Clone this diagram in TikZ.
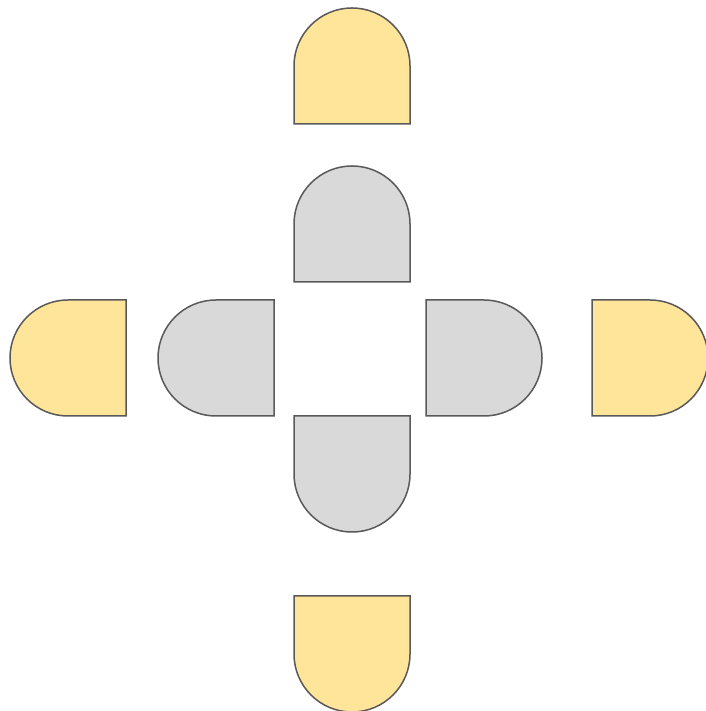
\documentclass[tikz,border=0pt]{standalone}
\definecolor{yelfill}{HTML}{FFE599}
\definecolor{greyfill}{HTML}{D9D9D9}
\definecolor{edgecol}{HTML}{595959}
\begin{document}
\begin{tikzpicture}[x=1pt,y=1pt,
  yshape/.style={fill=yelfill,draw=edgecol,line width=1.5pt,line join=miter},
  gshape/.style={fill=greyfill,draw=edgecol,line width=1.5pt,line join=miter}]
\useasboundingbox (0,1) rectangle (705,712);
% yellow
\draw[yshape] (294,588) -- (294,646) arc[start angle=180,end angle=0,radius=58] -- (410,588) -- cycle;
\draw[yshape] (126,296) -- (68,296) arc[start angle=270,end angle=90,radius=58] -- (126,412) -- cycle;
\draw[yshape] (592,296) -- (650,296) arc[start angle=-90,end angle=90,radius=58] -- (592,412) -- cycle;
\draw[yshape] (294,116) -- (294,58) arc[start angle=180,end angle=360,radius=58] -- (410,116) -- cycle;
% grey
\draw[gshape] (294,430) -- (294,488) arc[start angle=180,end angle=0,radius=58] -- (410,430) -- cycle;
\draw[gshape] (274,296) -- (216,296) arc[start angle=270,end angle=90,radius=58] -- (274,412) -- cycle;
\draw[gshape] (426,296) -- (484,296) arc[start angle=-90,end angle=90,radius=58] -- (426,412) -- cycle;
\draw[gshape] (294,296) -- (294,238) arc[start angle=180,end angle=360,radius=58] -- (410,296) -- cycle;
\end{tikzpicture}
\end{document}
